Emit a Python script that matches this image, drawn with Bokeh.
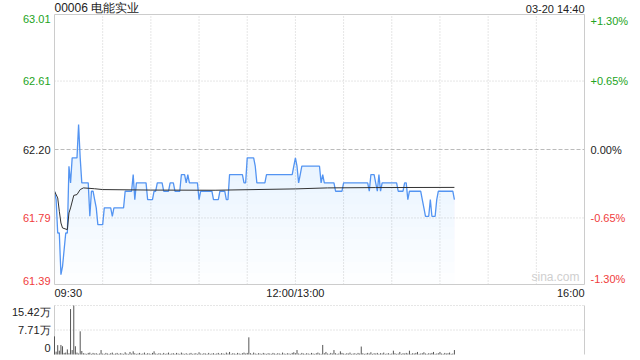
import numpy as np
from bokeh.plotting import figure
from bokeh.models import Range1d
from bokeh.core.properties import value
from bokeh.embed import file_html
from bokeh.resources import INLINE

TITLE = "00006 电能实业"
STAMP = "03-20 14:40"
prev_close = 62.20

# per-minute last price, 09:30 .. 14:39 (lunch break collapsed)
price = [
    61.95, 61.90, 61.70, 61.70, 61.45, 61.50, 61.60, 61.70, 61.70, 62.10,
    62.00, 62.15, 62.15, 62.15, 62.15, 62.35, 62.15, 62.00, 62.00, 62.00,
    62.00, 62.00, 61.80, 61.95, 61.95, 61.90, 61.85, 61.75, 61.75, 61.75,
    61.75, 61.85, 61.85, 61.85, 61.85, 61.85, 61.80, 61.85, 61.85, 61.85,
    61.85, 61.85, 61.85, 61.85, 61.95, 61.95, 61.95, 61.95, 61.95, 62.05,
    61.90, 62.00, 62.00, 62.00, 62.00, 62.00, 62.00, 62.00, 61.90, 61.90,
    61.90, 61.90, 61.95, 61.95, 62.00, 62.00, 62.00, 62.00, 61.95, 61.95,
    61.95, 61.95, 62.00, 62.00, 62.00, 61.95, 61.95, 61.95, 61.95, 62.05,
    62.05, 62.05, 62.00, 62.05, 62.00, 62.00, 62.00, 62.00, 62.00, 62.00,
    61.90, 61.95, 61.95, 61.95, 61.95, 61.95, 61.95, 61.95, 61.95, 61.90,
    61.90, 61.90, 61.90, 61.95, 61.95, 61.95, 61.95, 61.90, 61.90, 62.05,
    62.05, 62.05, 62.05, 62.05, 62.05, 62.05, 62.05, 62.05, 62.00, 62.00,
    62.15, 62.15, 62.15, 62.15, 62.15, 62.10, 62.00, 62.00, 62.00, 62.00,
    62.00, 62.00, 62.05, 62.05, 62.05, 62.05, 62.05, 62.05, 62.05, 62.05,
    62.05, 62.05, 62.05, 62.05, 62.05, 62.05, 62.05, 62.05, 62.05, 62.10,
    62.15, 62.10, 62.00, 62.05, 62.10, 62.10, 62.10, 62.10, 62.10, 62.10,
    62.10, 62.10, 62.10, 62.10, 62.10, 62.10, 62.00, 62.05, 62.00, 62.00,
    62.00, 62.00, 62.00, 62.00, 62.00, 61.95, 61.95, 61.95, 61.95, 61.95,
    62.00, 62.00, 62.00, 62.00, 62.00, 62.00, 62.00, 62.00, 62.00, 62.00,
    62.00, 62.00, 62.00, 62.00, 62.00, 62.00, 61.95, 62.05, 62.05, 62.05,
    62.00, 61.95, 62.05, 61.95, 62.00, 62.00, 62.00, 62.00, 62.00, 62.00,
    62.00, 62.00, 62.00, 62.00, 61.95, 61.95, 61.95, 61.95, 62.00, 62.00,
    61.90, 61.95, 61.95, 61.95, 61.95, 61.95, 61.95, 61.95, 61.95, 61.90,
    61.85, 61.80, 61.80, 61.80, 61.90, 61.80, 61.80, 61.80, 61.90, 61.95,
    61.95, 61.95, 61.95, 61.95, 61.95, 61.95, 61.95, 61.95, 61.95, 61.90,
]

avg_minute = [0, 2, 3, 4, 5, 8, 9, 10, 12, 14, 16, 18, 25, 30, 60, 100, 150, 170, 200, 249]
avg_price = [61.95, 61.91, 61.83, 61.76, 61.73, 61.72, 61.82, 61.85, 61.925, 61.93,
             61.96, 61.97, 61.965, 61.96, 61.957, 61.956, 61.964, 61.97, 61.972, 61.973]

volume = [
    57000, 9000, 29500, 12000, 30000, 26000, 5000, 6000, 16000, 4000,
    143000, 14000, 154200, 26000, 6000, 3000, 73000, 11000, 4000, 3000,
    2000, 5000, 6000, 2000, 5000, 3000, 4000, 2000, 3000, 14000,
    3000, 2000, 5000, 3000, 2000, 4000, 6000, 2000, 3000, 5000,
    2000, 4000, 3000, 2000, 7000, 3000, 2000, 8000, 3000, 10000,
    4000, 2000, 3000, 5000, 2000, 3000, 6000, 2000, 4000, 3000,
    2000, 5000, 10000, 3000, 2000, 4000, 3000, 2000, 5000, 2000,
    3000, 6000, 2000, 3000, 4000, 2000, 5000, 3000, 2000, 6000,
    3000, 2000, 4000, 2000, 3000, 5000, 2000, 3000, 4000, 2000,
    7000, 3000, 2000, 4000, 3000, 2000, 5000, 2000, 3000, 4000,
    2000, 3000, 5000, 2000, 4000, 3000, 2000, 6000, 3000, 8000,
    2000, 4000, 3000, 2000, 5000, 3000, 2000, 4000, 6000, 3000,
    5000, 54000, 4000, 2000, 6000, 3000, 2000, 4000, 3000, 2000,
    5000, 3000, 2000, 4000, 3000, 2000, 5000, 3000, 2000, 4000,
    3000, 2000, 6000, 3000, 2000, 4000, 3000, 2000, 5000, 7000,
    4000, 14000, 3000, 2000, 5000, 3000, 2000, 4000, 3000, 2000,
    5000, 3000, 2000, 4000, 6000, 3000, 2000, 30000, 4000, 8000,
    3000, 2000, 5000, 3000, 14000, 4000, 2000, 3000, 10000, 5000,
    3000, 2000, 4000, 3000, 6000, 2000, 3000, 4000, 2000, 5000,
    3000, 25000, 4000, 2000, 3000, 5000, 3000, 7000, 2000, 4000,
    3000, 5000, 2000, 4000, 3000, 6000, 2000, 3000, 4000, 2000,
    3000, 12000, 4000, 2000, 3000, 8000, 2000, 4000, 3000, 5000,
    3000, 12000, 2000, 4000, 3000, 5000, 8000, 2000, 3000, 4000,
    7000, 3000, 2000, 4000, 3000, 5000, 8000, 2000, 3000, 4000,
    8000, 3000, 2000, 5000, 3000, 4000, 6000, 2000, 3000, 14000,
]

price_ticks = [63.01, 62.61, 62.20, 61.79, 61.39]
price_tick_labels = ["63.01", "62.61", "62.20", "61.79", "61.39"]
pct_tick_labels = ["+1.30%", "+0.65%", "0.00%", "-0.65%", "-1.30%"]
tick_colors = ["#22a322", "#22a322", "#222222", "#f03c3c", "#f03c3c"]
time_ticks = [0, 150, 330]
time_labels = ["09:30", "12:00/13:00", "16:00"]
vol_max = 154200
vol_ticks = [154200, 77100, 0]
vol_tick_labels = ["15.42万", "7.71万", "0"]

FONT = "Liberation Sans"
TSPAN = 330
ymin, ymax = prev_close * (1 - 0.013), prev_close * (1 + 0.013)

# ---- layout (pixels) ----
W, H = 640, 360
FL, FR, FT, FB = 54, 584, 14, 284          # price frame
VT, VB = 305, 354                          # volume panel top/bottom
kx = (FR - FL) / TSPAN
ky = (FB - FT) / (ymax - ymin)
kv = (VB - VT) / vol_max

p = figure(width=W, height=H, output_backend="svg", toolbar_location=None,
           x_axis_type=None, y_axis_type=None,
           x_range=Range1d(0 - FL / kx, TSPAN + (W - FR) / kx),
           y_range=Range1d(ymin - (H - FB) / ky, ymax + FT / ky),
           min_border=0, min_border_left=0, min_border_right=0,
           min_border_top=0, min_border_bottom=0)
p.extra_y_ranges = {"vol": Range1d(0 - (H - VB) / kv, vol_max + VT / kv)}
p.outline_line_color = None
p.background_fill_color = "white"
p.border_fill_color = "white"
p.xgrid.visible = False
p.ygrid.visible = False

minutes = np.arange(len(price))
price_arr = np.array(price)
grid_m = list(range(30, TSPAN, 30))

# price panel grid
p.segment(x0=grid_m, y0=[ymin] * len(grid_m), x1=grid_m, y1=[ymax] * len(grid_m),
          line_color="#cccccc", line_dash="1 2", line_width=1)
p.segment(x0=[0, 0], y0=[price_ticks[1], price_ticks[3]], x1=[TSPAN, TSPAN],
          y1=[price_ticks[1], price_ticks[3]], line_color="#cccccc", line_dash="1 2")
p.segment(x0=[0], y0=[prev_close], x1=[TSPAN], y1=[prev_close],
          line_color="#bbbbbb", line_dash="4 2")

# gradient-like area fill under the price line
n_layers = 14
for k in range(n_layers):
    lvl = ymin + (np.max(price_arr) - ymin) * k / n_layers
    p.varea(x=minutes, y1=np.full(len(price_arr), lvl), y2=np.maximum(price_arr, lvl),
            fill_color="#4a8cf0", fill_alpha=0.011)

p.line(minutes, price_arr, line_color="#5394f2", line_width=1.3)
p.line(avg_minute, avg_price, line_color="#333333", line_width=1)

p.quad(left=[0], right=[TSPAN], bottom=[ymin], top=[ymax], fill_color=None,
       line_color="#cccccc", line_width=1)

def txt(x, y, s, color="#222222", size="11px", align="left", base="middle",
        xo=0, yo=0, yr="default"):
    p.text(x=[x], y=[y], text=[s], text_color=color, text_font=value(FONT),
           text_font_size=size, text_align=align, text_baseline=base,
           x_offset=xo, y_offset=yo, y_range_name=yr)

for i, (v, lab, pl, col) in enumerate(zip(price_ticks, price_tick_labels,
                                           pct_tick_labels, tick_colors)):
    base = "top" if i == 0 else ("bottom" if i == 4 else "middle")
    yv = ymax if i == 0 else (ymin if i == 4 else v)
    txt(0, yv, lab, col, align="right", base=base, xo=-4)
    txt(TSPAN, yv, pl, col, align="left", base=base, xo=6)

txt(0, ymax, TITLE, size="12px", align="left", base="bottom", yo=0)
txt(TSPAN, ymax, STAMP, align="right", base="bottom", yo=0)
for t, lab, al in zip(time_ticks, time_labels, ["left", "center", "right"]):
    txt(t, ymin, lab, align=al, base="top", yo=2)
txt(TSPAN, ymin, "sina.com", "#cfcfcf", size="12px", align="right", base="bottom",
    xo=-5, yo=-1)

# volume panel
p.segment(x0=[0, TSPAN], y0=[0, 0], x1=[0, TSPAN], y1=[vol_max, vol_max],
          line_color="#cccccc", y_range_name="vol")
p.segment(x0=[0, 0], y0=[vol_ticks[0], vol_ticks[1]], x1=[TSPAN, TSPAN],
          y1=[vol_ticks[0], vol_ticks[1]], line_color="#cccccc", line_dash="1 2",
          y_range_name="vol")
p.segment(x0=minutes, y0=np.zeros(len(volume)), x1=minutes, y1=volume,
          line_color="#555555", line_width=1, y_range_name="vol")
vol_yo = [0, 0, -3]
for i, (vt, lab) in enumerate(zip(vol_ticks, vol_tick_labels)):
    base = "top" if i == 0 else ("bottom" if i == 2 else "middle")
    txt(0, vt, lab, align="right", base=base, xo=-4, yo=vol_yo[i], yr="vol")

open("out.html", "w").write(file_html(p, INLINE))
